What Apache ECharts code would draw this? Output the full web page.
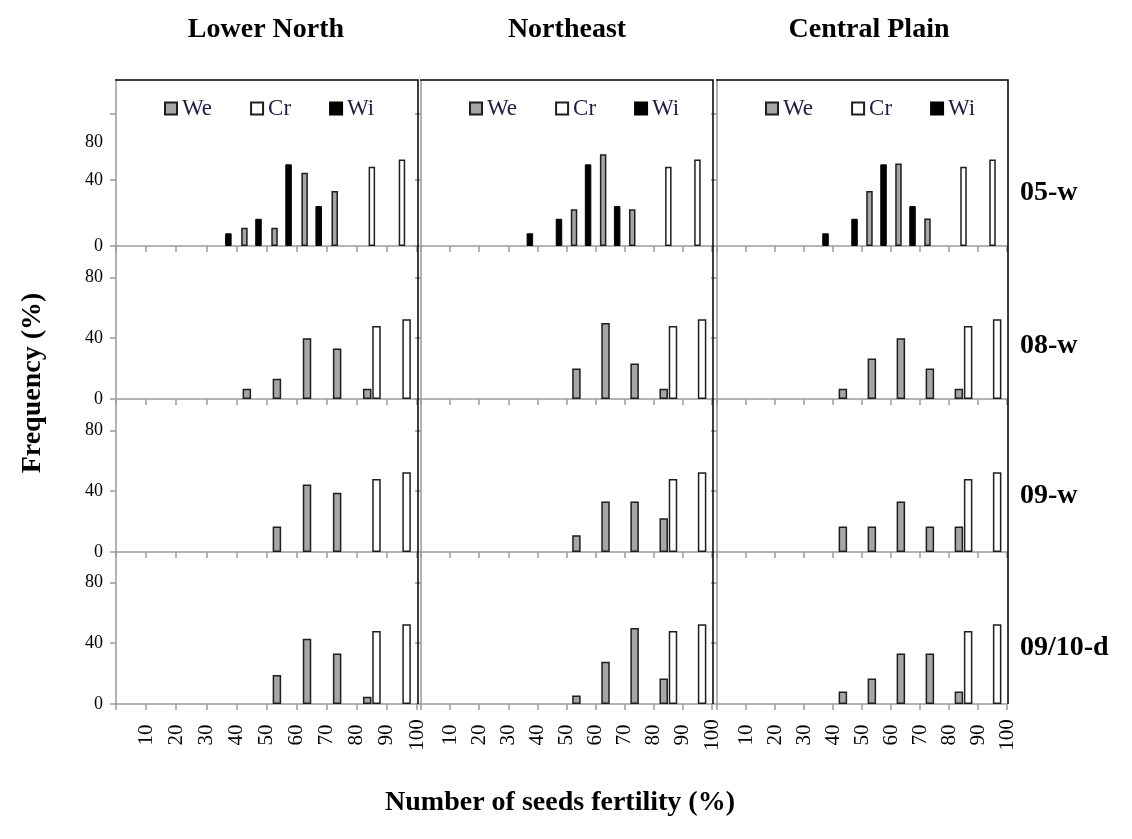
<!DOCTYPE html>
<html>
<head>
<meta charset="utf-8">
<script src="https://cdn.jsdelivr.net/npm/echarts@6/dist/echarts.min.js"></script>
<style>
  html, body { margin: 0; padding: 0; background: #fff; }
  #chart { width: 1132px; height: 839px; }
</style>
</head>
<body>
<div id="chart"></div>
<script>
// ---- data -------------------------------------------------------------
const regions = ['Lower North', 'Northeast', 'Central Plain'];
const seasons = ['05-w', '08-w', '09-w', '09/10-d'];
const binMid = [5, 15, 25, 35, 45, 55, 65, 75, 85, 95];          // centre of each 10 % class
const xTickLabels = [10, 20, 30, 40, 50, 60, 70, 80, 90, 100];
const yTickLabels = [0, 40, 80];
const seriesNames = ['We', 'Cr', 'Wi'];

// weedy rice (We) frequency, one array per region: Lower North, Northeast, Central Plain
const we05w = [
  [null, null, null, null, 11.1, 11.1, 44.4, 33.3, null, null],
  [null, null, null, null, null, 22.2, 55.6, 22.2, null, null],
  [null, null, null, null, null, 33.3, 50.0, 16.7, null, null]
];
const we08w = [
  [null, null, null, null, 6.7, 13.3, 40.0, 33.3, 6.7, null],
  [null, null, null, null, null, 20.0, 50.0, 23.3, 6.7, null],
  [null, null, null, null, 6.7, 26.7, 40.0, 20.0, 6.7, null]
];
const we09w = [
  [null, null, null, null, null, 16.7, 44.4, 38.9, null, null],
  [null, null, null, null, null, 11.1, 33.3, 33.3, 22.2, null],
  [null, null, null, null, 16.7, 16.7, 33.3, 16.7, 16.7, null]
];
const we0910d = [
  [null, null, null, null, null, 19.0, 42.9, 33.3, 4.8, null],
  [null, null, null, null, null, 5.6, 27.8, 50.0, 16.7, null],
  [null, null, null, null, 8.3, 16.7, 33.3, 33.3, 8.3, null]
];
// cultivated rice (Cr), same in every panel
const crFreq = [null, null, null, null, null, null, null, null, 48.0, 52.5];
// wild rice (Wi), only in the 05-w season
const wi05w = [null, null, null, 7.7, 16.5, 49.5, 24.2, null, null, null];

const weBySeason = [we05w, we08w, we09w, we0910d];

// ---- layout -----------------------------------------------------------
const SERIF = '"Liberation Serif", "Times New Roman", Times, serif';
const colLeft = [116, 421, 717];
const colWidth = [301, 291, 290];
const rowTop = [81, 247, 400, 552];
const rowHeight = [165, 152, 152, 152];
const AXIS_GRAY = '#9a9a9a';
const HEAD = { fontFamily: SERIF, fontSize: 28, fontWeight: 'bold', color: '#000' };

const styleOf = {
  We: { color: '#a6a6a6', borderColor: '#1e1e1e', borderWidth: 1.5 },
  Cr: { color: '#ffffff', borderColor: '#1e1e1e', borderWidth: 1.5 },
  Wi: { color: '#000000', borderColor: '#000000', borderWidth: 1 }
};

function pairs(values) {
  const out = [];
  values.forEach((v, i) => { if (v !== null) out.push([binMid[i], v]); });
  return out;
}

const grids = [], xAxes = [], yAxes = [], series = [];
let idx = 0;
for (let r = 0; r < seasons.length; r++) {
  for (let c = 0; c < regions.length; c++) {
    grids.push({ left: colLeft[c], top: rowTop[r], width: colWidth[c], height: rowHeight[r], containLabel: false });
    const last = r === seasons.length - 1;
    xAxes.push({
      type: 'value', gridIndex: idx, min: 0, max: 100, interval: 10,
      axisLine: { show: true, onZero: false, lineStyle: { color: AXIS_GRAY, width: 1.5 } },
      axisTick: { show: true, inside: false, length: 6, lineStyle: { color: AXIS_GRAY, width: 1.5 } },
      splitLine: { show: false },
      axisLabel: last ? {
        show: true, customValues: xTickLabels, rotate: 90, align: 'center', verticalAlign: 'middle',
        margin: 31, fontFamily: SERIF, fontSize: 21, color: '#000'
      } : { show: false }
    });
    const labelCfg = { show: c === 0, customValues: yTickLabels, margin: 13, fontFamily: SERIF, fontSize: 18, color: '#000' };
    if (r === 0 && c === 0) {
      labelCfg.formatter = v => (v === 80 ? '{low|80}' : String(v));
      labelCfg.rich = { low: { padding: [56, 0, 0, 0], fontFamily: SERIF, fontSize: 18, color: '#000' } };
    }
    yAxes.push({
      type: 'value', gridIndex: idx, min: 0, max: 100, interval: 40,
      axisLine: { show: true, lineStyle: { color: AXIS_GRAY, width: 1.5 } },
      axisTick: { show: true, inside: false, length: 6, customValues: yTickLabels, lineStyle: { color: AXIS_GRAY, width: 1.5 } },
      splitLine: { show: false },
      axisLabel: labelCfg
    });
    const names = r === 0 ? seriesNames : ['We', 'Cr'];
    const valuesOf = { We: weBySeason[r][c], Cr: crFreq, Wi: wi05w };
    names.forEach(n => {
      series.push({
        type: 'bar', name: n, xAxisIndex: idx, yAxisIndex: idx,
        data: pairs(valuesOf[n]),
        barWidth: r === 0 ? 6.5 : 8.5,
        barGap: r === 0 ? '8%' : '9%',
        itemStyle: styleOf[n],
        emphasis: { disabled: true }
      });
    });
    idx++;
  }
}

const legends = colLeft.map(x => ({
  data: seriesNames, left: x + 48, top: 97, padding: 0, icon: 'rect',
  itemWidth: 12, itemHeight: 12, itemGap: 38, selectedMode: false,
  textStyle: { fontFamily: SERIF, fontSize: 23, color: '#1d1d40' }
}));

const titles = [];
const titleCentres = [266, 567, 869];
regions.forEach((t, i) => titles.push({
  text: t, left: titleCentres[i], top: 16, textAlign: 'center', padding: 0, textStyle: HEAD
}));
const seasonCentres = [190, 343, 493, 645];
seasons.forEach((t, i) => titles.push({
  text: t, left: 1020, top: seasonCentres[i] - 11, padding: 0, textStyle: HEAD
}));
titles.push({
  text: 'Number of seeds fertility (%)', left: 560, top: 789, textAlign: 'center', padding: 0, textStyle: HEAD
});

const plotBottom = rowTop[3] + rowHeight[3];
const frames = colLeft.map((x, c) => ({
  type: 'polyline', z: 5, silent: true,
  shape: { points: [[x - 1, rowTop[0] - 1], [x + colWidth[c] + 1, rowTop[0] - 1], [x + colWidth[c] + 1, plotBottom]] },
  style: { stroke: '#000', lineWidth: 1.5, fill: null }
}));

const chart = echarts.init(document.getElementById('chart'), null, { renderer: 'canvas' });
chart.setOption({
  animation: false,
  backgroundColor: '#fff',
  title: titles,
  legend: legends,
  grid: grids,
  xAxis: xAxes,
  yAxis: yAxes,
  series: series,
  graphic: frames.concat([{
    type: 'text', x: 33, y: 383, rotation: Math.PI / 2, silent: true,
    style: { text: 'Frequency (%)', fontFamily: SERIF, fontSize: 28, fontWeight: 'bold', fill: '#000', align: 'center', verticalAlign: 'middle' }
  }])
});
</script>
</body>
</html>
